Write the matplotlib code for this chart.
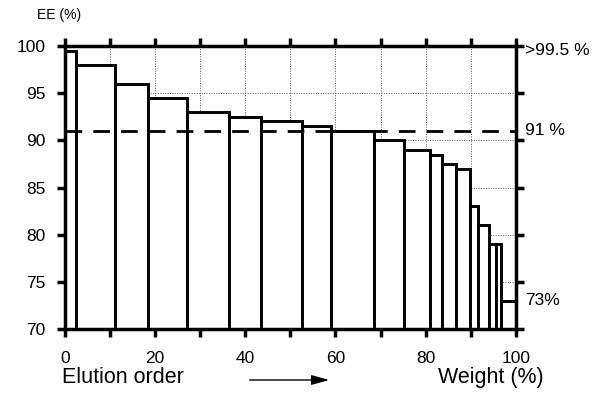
import matplotlib
matplotlib.use("Agg")
import matplotlib.pyplot as plt
import numpy as np

plt.rcParams['font.family'] = ['Liberation Sans', 'DejaVu Sans']

# Fraction boundaries (weight %) and enantiomeric excess (%) of each fraction
edges = [0, 2.4, 11.1, 18.5, 27.1, 36.4, 43.5, 52.5, 59.0, 68.5, 75.2,
         80.9, 83.7, 86.7, 89.8, 91.6, 94.1, 95.7, 96.7, 100]
ee = [99.5, 98, 96, 94.5, 93, 92.5, 92, 91.5, 91, 90, 89,
      88.5, 87.5, 87, 83, 81, 79, 79, 73]
threshold = 91
xticks = [0, 20, 40, 60, 80, 100]
yticks = [70, 75, 80, 85, 90, 95, 100]
right_labels = [(99.5, '>99.5 %'), (91, '91 %'), (73, '73%')]

fig = plt.figure(figsize=(5.95, 3.95), dpi=100)
ax = fig.add_axes([0.109, 0.167, 0.758, 0.7165])

lefts = np.array(edges[:-1])
widths = np.diff(edges)
ax.bar(lefts, ee, width=widths, align='edge', facecolor='white',
       edgecolor='black', linewidth=2.1, zorder=3)

ax.axhline(threshold, color='black', lw=2.0, dashes=(6, 4), zorder=4)

ax.set_xlim(0, 100)
ax.set_ylim(70, 100)
ax.set_xticks(xticks)
ax.set_xticks(np.arange(0, 101, 10), minor=True)
ax.set_yticks(yticks)
ax.grid(True, which='both', axis='x', color='#555555', ls=(0, (1, 1.5)), lw=0.7, zorder=1)
ax.grid(True, which='major', axis='y', color='#555555', ls=(0, (1, 1.5)), lw=0.7, zorder=1)

for s in ax.spines.values():
    s.set_linewidth(2.5)
    s.set_zorder(5)

ax.tick_params(axis='both', which='both', direction='out', width=2.5, labelsize=12.5,
               top=True, right=True)
ax.tick_params(axis='x', which='both', length=6)
ax.tick_params(axis='x', which='major', pad=10)
ax.tick_params(axis='y', which='major', length=6, pad=8, right=True, labelright=False)

for yv, lab in right_labels:
    ax.text(102, yv, lab, fontsize=12.5, va='center', ha='left', clip_on=False)

fig.text(0.062, 0.962, 'EE (%)', fontsize=10, ha='left', va='center')
fig.text(0.104, 0.045, 'Elution order', fontsize=15.5, ha='left', va='center')
fig.text(0.913, 0.045, 'Weight (%)', fontsize=15.5, ha='right', va='center')
fig.add_artist(matplotlib.patches.FancyArrowPatch(
    (0.415, 0.038), (0.558, 0.038), transform=fig.transFigure,
    arrowstyle='-|>,head_length=0.9,head_width=0.25', color='black', lw=1.0,
    mutation_scale=12))

fig.savefig('out.png', dpi=100)
